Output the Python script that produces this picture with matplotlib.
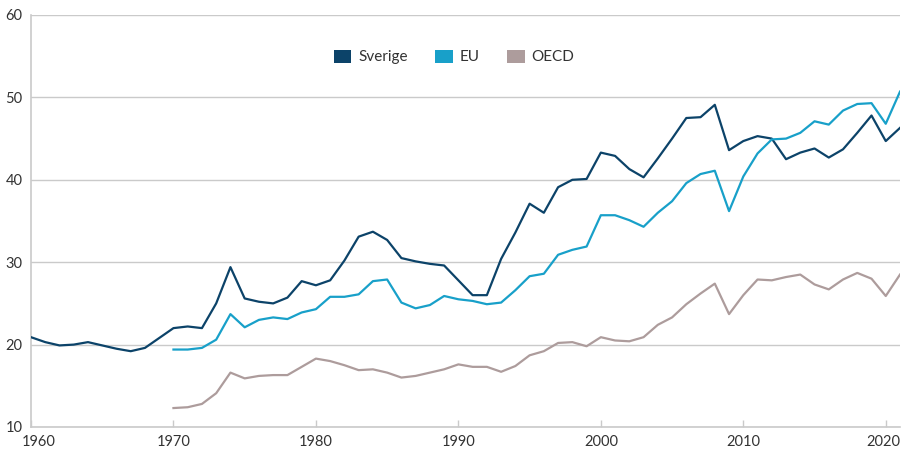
import matplotlib.pyplot as plt
import matplotlib.transforms as mtransforms
from matplotlib.patches import Patch

years_se = list(range(1960, 2022))
years_oth = list(range(1970, 2022))

sverige = [
    20.9, 20.3, 19.9, 20.0, 20.3, 19.9, 19.5, 19.2, 19.6, 20.8,
    22.0, 22.2, 22.0, 25.0, 29.4, 25.6, 25.2, 25.0, 25.7, 27.7,
    27.2, 27.8, 30.2, 33.1, 33.7, 32.7, 30.5, 30.1, 29.8, 29.6,
    27.8, 26.0, 26.0, 30.4, 33.6, 37.1, 36.0, 39.1, 40.0, 40.1,
    43.3, 42.9, 41.3, 40.3, 42.6, 45.0, 47.5, 47.6, 49.1, 43.6,
    44.7, 45.3, 45.0, 42.5, 43.3, 43.8, 42.7, 43.7, 45.7, 47.8,
    44.7, 46.3,
]
eu = [
    19.4, 19.4, 19.6, 20.6, 23.7, 22.1, 23.0, 23.3, 23.1, 23.9,
    24.3, 25.8, 25.8, 26.1, 27.7, 27.9, 25.1, 24.4, 24.8, 25.9,
    25.5, 25.3, 24.9, 25.1, 26.6, 28.3, 28.6, 30.9, 31.5, 31.9,
    35.7, 35.7, 35.1, 34.3, 36.0, 37.4, 39.6, 40.7, 41.1, 36.2,
    40.4, 43.2, 44.9, 45.0, 45.7, 47.1, 46.7, 48.4, 49.2, 49.3,
    46.8, 50.7,
]
oecd = [
    12.3, 12.4, 12.8, 14.1, 16.6, 15.9, 16.2, 16.3, 16.3, 17.3,
    18.3, 18.0, 17.5, 16.9, 17.0, 16.6, 16.0, 16.2, 16.6, 17.0,
    17.6, 17.3, 17.3, 16.7, 17.4, 18.7, 19.2, 20.2, 20.3, 19.8,
    20.9, 20.5, 20.4, 20.9, 22.4, 23.3, 24.9, 26.2, 27.4, 23.7,
    26.0, 27.9, 27.8, 28.2, 28.5, 27.3, 26.7, 27.9, 28.7, 28.0,
    25.9, 28.5,
]

series_names = ["Sverige", "EU", "OECD"]
colors = ["#0c4369", "#18a0c9", "#ad9c9c"]
x_ticks = [1960, 1970, 1980, 1990, 2000, 2010, 2020]
y_ticks = [10, 20, 30, 40, 50, 60]

plt.rcParams["font.family"] = ["Lato", "DejaVu Sans"]
text_color = "#333333"
grid_color = "#cacaca"

fig = plt.figure(figsize=(9.01, 4.53), dpi=100)
ax = fig.add_axes([31 / 901, 1 - 427 / 453, 869 / 901, 412 / 453])

ax.plot(years_se, sverige, color=colors[0], lw=1.6, zorder=3)
ax.plot(years_oth, eu, color=colors[1], lw=1.6, zorder=3)
ax.plot(years_oth, oecd, color=colors[2], lw=1.6, zorder=3)

ax.set_xlim(1960, 2021)
ax.set_ylim(10, 60)
ax.set_yticks(y_ticks)
ax.set_xticks(x_ticks)
ax.yaxis.grid(True, color=grid_color, lw=1)
ax.set_axisbelow(True)

for s in ["top", "right"]:
    ax.spines[s].set_visible(False)
for s in ["left", "bottom"]:
    ax.spines[s].set_color(grid_color)
    ax.spines[s].set_linewidth(1.2)

ax.tick_params(axis="y", length=0, pad=6, labelsize=10.5, labelcolor=text_color)
ax.tick_params(axis="x", direction="in", length=5, color=grid_color, width=1,
               pad=6, labelsize=10.5, labelcolor=text_color)

# first year label sits a bit to the right, last one a bit to the left
ticklabels = ax.get_xticklabels()
first, last = ticklabels[0], ticklabels[-1]
first.set_transform(first.get_transform() +
                    mtransforms.ScaledTranslation(8 / 100, 0, fig.dpi_scale_trans))
last.set_transform(last.get_transform() +
                   mtransforms.ScaledTranslation(-2 / 100, 0, fig.dpi_scale_trans))

handles = [Patch(facecolor=c, edgecolor="none") for c in colors]
ax.legend(handles, series_names, loc="center", bbox_to_anchor=(0.487, 0.898),
          ncol=3, frameon=False, fontsize=11, handlelength=1.15, handleheight=0.95,
          handletextpad=0.45, columnspacing=1.8, labelcolor=text_color)

fig.savefig("out.png", dpi=100)
